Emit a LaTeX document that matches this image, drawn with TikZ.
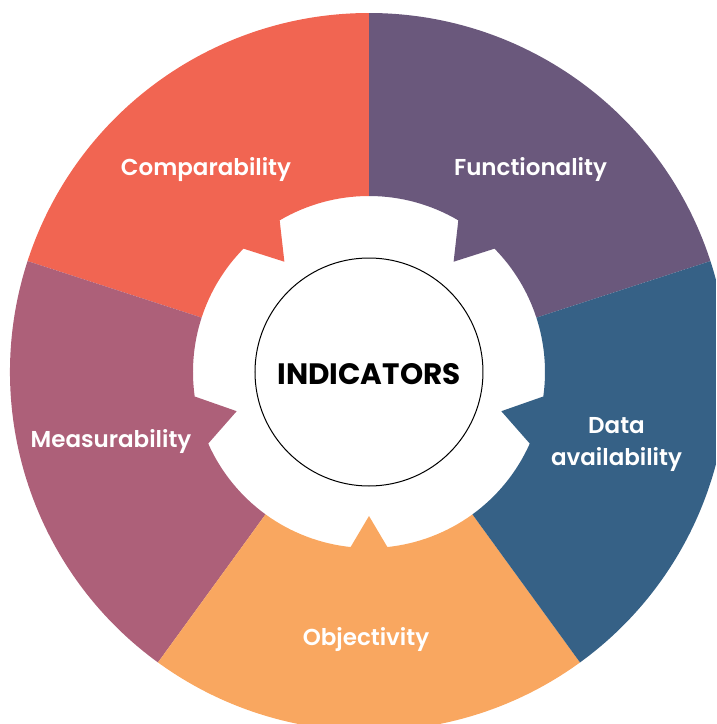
\documentclass[tikz,border=0pt]{standalone}
\usepackage{fontspec}
\setmainfont{Poppins}
\newfontfamily\semifont{Poppins}[UprightFont={* SemiBold}]
\definecolor{compred}{HTML}{F16552}
\definecolor{funcpurple}{HTML}{6A587C}
\definecolor{datablue}{HTML}{366186}
\definecolor{measmauve}{HTML}{AD6079}
\definecolor{objorange}{HTML}{F9A760}

\begin{document}
\begin{tikzpicture}[x=1pt,y=1pt,
    lbl/.style={text=white,font=\semifont\fontsize{23}{32}\selectfont,align=center}]
        \pgfmathsetmacro{\Rout}{359} % outer radius
        \pgfmathsetmacro{\Rin}{176} % inner radius
        \useasboundingbox (-369,-352) rectangle (347,372);
        \clip (-369,-352) rectangle (347,372);
        % colour / from / to / tooth start / tooth tip / tooth end / tip radius / node / label position / text
        \foreach \col/\lo/\hi/\ta/\tp/\tb/\tr/\nm/\pos/\txt in {
            funcpurple/18/90/59.5/52.5/44.5/139/func/{(161.5,202.5)}/Functionality,
            compred/90/162/135.5/127.5/120.5/139/comp/{(-163,202.5)}/Comparability,
            measmauve/162/234/204/196.5/188/138/meas/{(-258,-69)}/Measurability,
            objorange/234/306/276/270/264/144/obj/{(-3,-267.5)}/Objectivity,
            datablue/-54/18/-8/-16.5/-24/138/data/{(247.5,-72.5)}/{Data\\availability}}
        {
            \fill[\col] (\lo:\Rout) arc[start angle=\lo,end angle=\hi,radius=\Rout]
                -- (\hi:\Rin) arc[start angle=\hi,end angle=\ta,radius=\Rin]
                -- (\tp:\tr) -- (\tb:\Rin) arc[start angle=\tb,end angle=\lo,radius=\Rin] -- cycle;
            \node[lbl] (\nm) at \pos {\txt};
        }
        \node[draw,circle,fill=white,line width=1pt,minimum size=228pt,inner sep=0pt,
            font=\bfseries\fontsize{29.5}{32}\selectfont] (ind) at (0,0) {\smash{\raisebox{-12.5pt}{INDICATORS}}};
    \end{tikzpicture}
\end{document}
